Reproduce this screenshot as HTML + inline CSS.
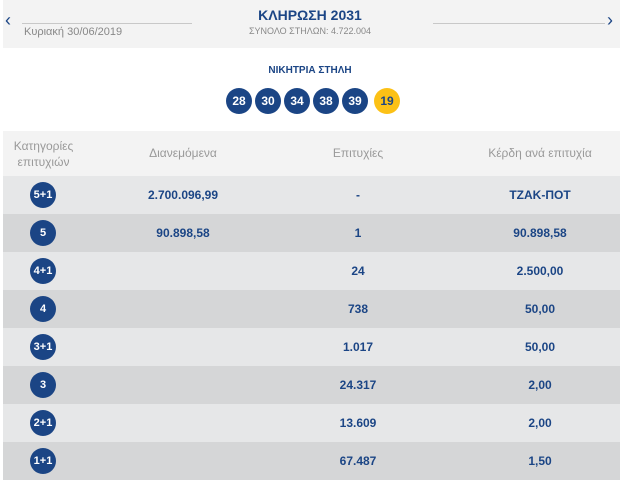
<!DOCTYPE html>
<html><head><meta charset="utf-8"><style>
body{margin:0;width:620px;height:480px;overflow:hidden;background:#fff;font-family:"Liberation Sans","DejaVu Sans",sans-serif;position:relative}
.a{position:absolute}
.hdr{left:3px;top:0;width:617px;height:48px;background:#f3f3f3}
.line{height:1px;background:#c8c8c8;top:23px}
.blue{color:#1b4585}
.ball{position:absolute;top:88px;width:26px;height:26px;border-radius:50%;background:#1b4585;color:#fff;font-weight:bold;font-size:12px;text-align:center;line-height:26px}
.row{position:absolute;left:3px;width:617px;height:38px}
.row div{position:absolute;top:0;line-height:38px;font-weight:bold;font-size:12px;color:#1b4585;text-align:center}
.c{left:27px;width:26px;height:26px;top:6px!important;line-height:26px!important;border-radius:50%;background:#1b4585;color:#fff!important;font-size:11px!important}
.d{left:110px;width:140px}.e{left:305px;width:100px}.k{left:467px;width:140px}
.th{position:absolute;top:0;color:#888;font-size:12px;text-align:center}
</style></head><body>
<div class="a hdr"></div>
<div class="a" style="left:5px;top:10px;color:#1b4585;font-size:18px">‹</div>
<div class="a" style="left:607px;top:10px;color:#1b4585;font-size:18px">›</div>
<div class="a line" style="left:22px;width:170px"></div>
<div class="a line" style="left:433px;width:172px"></div>
<div class="a" style="left:24px;top:26px;font-size:11px;color:#888">Κυριακή 30/06/2019</div>
<div class="a blue" style="left:210px;width:200px;top:7px;text-align:center;font-weight:bold;font-size:14px">ΚΛΗΡΩΣΗ 2031</div>
<div class="a" style="left:210px;width:200px;top:26px;text-align:center;font-size:9px;color:#888">ΣΥΝΟΛΟ ΣΤΗΛΩΝ: 4.722.004</div>
<div class="a blue" style="left:210px;width:200px;top:65px;text-align:center;font-weight:bold;font-size:10px">ΝΙΚΗΤΡΙΑ ΣΤΗΛΗ</div>
<div class="ball" style="left:226px">28</div>
<div class="ball" style="left:255px">30</div>
<div class="ball" style="left:284px">34</div>
<div class="ball" style="left:313px">38</div>
<div class="ball" style="left:342px">39</div>
<div class="ball" style="left:374px;background:#fcc116;color:#1b4585">19</div>
<div class="row" style="top:131px;height:45px;background:#f3f3f3">
<div class="th" style="left:3px;width:75px;top:7px;line-height:16px;font-weight:normal;color:#999">Κατηγορίες<br>επιτυχιών</div>
<div class="th d" style="line-height:45px;font-weight:normal;color:#999">Διανεμόμενα</div>
<div class="th e" style="line-height:45px;font-weight:normal;color:#999">Επιτυχίες</div>
<div class="th k" style="line-height:45px;font-weight:normal;color:#999">Κέρδη ανά επιτυχία</div>
</div>
<div class="row" style="top:176px;background:#e6e7e8"><div class="c">5+1</div><div class="d">2.700.096,99</div><div class="e">-</div><div class="k">ΤΖΑΚ-ΠΟΤ</div></div>
<div class="row" style="top:214px;background:#d5d6d7"><div class="c">5</div><div class="d">90.898,58</div><div class="e">1</div><div class="k">90.898,58</div></div>
<div class="row" style="top:252px;background:#e6e7e8"><div class="c">4+1</div><div class="e">24</div><div class="k">2.500,00</div></div>
<div class="row" style="top:290px;background:#d5d6d7"><div class="c">4</div><div class="e">738</div><div class="k">50,00</div></div>
<div class="row" style="top:328px;background:#e6e7e8"><div class="c">3+1</div><div class="e">1.017</div><div class="k">50,00</div></div>
<div class="row" style="top:366px;background:#d5d6d7"><div class="c">3</div><div class="e">24.317</div><div class="k">2,00</div></div>
<div class="row" style="top:404px;background:#e6e7e8"><div class="c">2+1</div><div class="e">13.609</div><div class="k">2,00</div></div>
<div class="row" style="top:442px;background:#d5d6d7"><div class="c">1+1</div><div class="e">67.487</div><div class="k">1,50</div></div>
</body></html>
